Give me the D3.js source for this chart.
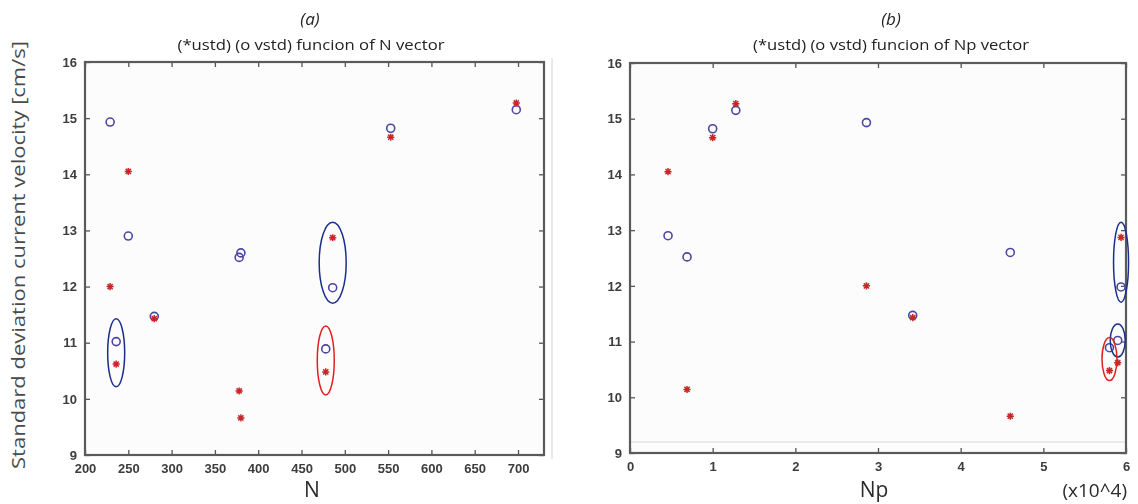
<!DOCTYPE html>
<html>
<head>
<meta charset="utf-8">
<script src="https://cdn.jsdelivr.net/npm/d3@7"></script>
<style>
  html, body { margin: 0; padding: 0; background: #ffffff; }
  svg { display: block; }
</style>
</head>
<body>
<svg id="chart" width="1138" height="504"></svg>
<script>
// Ten runs: grid size N, particle count Np (x10^4), and the standard
// deviations of the u and v current velocity components [cm/s].
const nValues  = [229, 250, 236, 280, 378, 380, 486, 478, 553, 698];
const npValues = [2.86, 0.46, 5.90, 3.42, 0.69, 4.60, 5.94, 5.80, 1.00, 1.28];
const ustd     = [12.00, 14.05, 10.62, 11.43, 10.14, 9.66, 12.87, 10.48, 14.66, 15.27];
const vstd     = [14.93, 12.90, 11.02, 11.47, 12.52, 12.60, 11.98, 10.89, 14.82, 15.15];

const nTicks  = [200, 250, 300, 350, 400, 450, 500, 550, 600, 650, 700];
const npTicks = [0, 1, 2, 3, 4, 5, 6];
const yTicks  = [9, 10, 11, 12, 13, 14, 15, 16];

// Highlighted runs: panel, run index, which series the ring encloses.
const highlights = [
  { panel: 'a', run: 2, series: ['u', 'v'], color: '#1b2e8c', rx: 8.5, ry: 34 },
  { panel: 'a', run: 6, series: ['u', 'v'], color: '#1b2e8c', rx: 13.5, ry: 40.5 },
  { panel: 'a', run: 7, series: ['u', 'v'], color: '#e0201c', rx: 8.5, ry: 34.5 },
  { panel: 'b', run: 6, series: ['u', 'v'], color: '#1b2e8c', rx: 7.5, ry: 40 },
  { panel: 'b', run: 2, series: ['v'],      color: '#1b2e8c', rx: 7.5, ry: 16.5 },
  { panel: 'b', run: 7, series: ['u', 'v'], color: '#e0201c', rx: 7.5, ry: 21.5 }
];

const svg = d3.select('#chart');
const defs = svg.append('defs');
defs.append('filter').attr('id', 'soft').attr('x', '-50%').attr('y', '-50%')
  .attr('width', '200%').attr('height', '200%')
  .append('feGaussianBlur').attr('stdDeviation', 0.7);
defs.append('filter').attr('id', 'softer').attr('x', '-50%').attr('y', '-50%')
  .attr('width', '200%').attr('height', '200%')
  .append('feGaussianBlur').attr('stdDeviation', 0.55);

const panels = [
  {
    key: 'a', letter: '(a)', title: '(*ustd) (o vstd) funcion of N vector',
    xs: nValues, ticks: nTicks,
    x: d3.scaleLinear().domain([200, 730]).range([85, 544]),
    y: d3.scaleLinear().domain([9, 16]).range([455, 62]),
    letterX: 310, titleX: 311, titleW: 267,
    xLabel: 'N', xLabelX: 312
  },
  {
    key: 'b', letter: '(b)', title: '(*ustd) (o vstd) funcion of Np vector',
    xs: npValues, ticks: npTicks,
    x: d3.scaleLinear().domain([0, 6]).range([630, 1126]),
    y: d3.scaleLinear().domain([9, 16]).range([453, 63]),
    letterX: 891, titleX: 891, titleW: 276,
    xLabel: 'Np', xLabelX: 874
  }
];

function starPath(r) {
  const d = r * 0.72;
  return `M${-r},0L${r},0M0,${-r}L0,${r}M${-d},${-d}L${d},${d}M${-d},${d}L${d},${-d}`;
}

panels.forEach(p => {
  const g = svg.append('g');
  const [x0, x1] = p.x.range();
  const [y0, y1] = p.y.range();

  // plot area
  g.append('rect').attr('x', x0).attr('y', y1).attr('width', x1 - x0).attr('height', y0 - y1)
    .attr('fill', '#fcfcfc');

  if (p.key === 'b') {
    g.append('line').attr('x1', x0).attr('x2', x1).attr('y1', y0 - 11).attr('y2', y0 - 11)
      .attr('stroke', '#d8d8d8').attr('stroke-width', 1);
  } else {
    g.append('line').attr('x1', x1 + 8).attr('x2', x1 + 8).attr('y1', y1 - 4).attr('y2', y0 + 4)
      .attr('stroke', '#e2e2e2').attr('stroke-width', 1.5);
  }

  // axes with inward ticks on all four sides
  const axisStyle = sel => {
    sel.select('.domain').remove();
    sel.selectAll('.tick line').attr('stroke', '#555').attr('stroke-width', 1.3);
  };
  const labelStyle = sel => sel.selectAll('text')
    .attr('font-family', 'Liberation Sans, Arial, sans-serif')
    .attr('font-weight', 'bold').attr('font-size', 13).attr('fill', '#3c3c3c')
    .attr('filter', 'url(#softer)');

  const bottom = g.append('g').attr('transform', `translate(0,${y0})`)
    .call(d3.axisBottom(p.x).tickValues(p.ticks).tickSize(-5).tickPadding(9).tickFormat(d3.format('d')));
  axisStyle(bottom); labelStyle(bottom);

  const top = g.append('g').attr('transform', `translate(0,${y1})`)
    .call(d3.axisTop(p.x).tickValues(p.ticks).tickSize(-5).tickFormat(''));
  axisStyle(top);

  const left = g.append('g').attr('transform', `translate(${x0},0)`)
    .call(d3.axisLeft(p.y).tickValues(yTicks).tickSize(-5).tickPadding(8).tickFormat(d3.format('d')));
  axisStyle(left); labelStyle(left);

  const right = g.append('g').attr('transform', `translate(${x1},0)`)
    .call(d3.axisRight(p.y).tickValues(yTicks).tickSize(-5).tickFormat(''));
  axisStyle(right);

  // box
  g.append('rect').attr('x', x0).attr('y', y1).attr('width', x1 - x0).attr('height', y0 - y1)
    .attr('fill', 'none').attr('stroke', '#5a5a5a').attr('stroke-width', 2.2);

  // v std: circles
  g.append('g').attr('filter', 'url(#soft)').selectAll('circle')
    .data(vstd).join('circle')
    .attr('cx', (d, i) => p.x(p.xs[i])).attr('cy', d => p.y(d)).attr('r', 4)
    .attr('fill', 'none').attr('stroke', '#4b47a0').attr('stroke-width', 1.6);

  // u std: stars
  g.append('g').attr('filter', 'url(#soft)').selectAll('path')
    .data(ustd).join('path')
    .attr('transform', (d, i) => `translate(${p.x(p.xs[i])},${p.y(d)})`)
    .attr('d', starPath(3.6))
    .attr('fill', 'none').attr('stroke', '#c8282a').attr('stroke-width', 1.5);

  // highlight rings
  highlights.filter(h => h.panel === p.key).forEach(h => {
    const vals = h.series.map(s => (s === 'u' ? ustd : vstd)[h.run]);
    g.append('ellipse')
      .attr('cx', p.x(p.xs[h.run])).attr('cy', p.y(d3.mean(vals)))
      .attr('rx', h.rx).attr('ry', h.ry)
      .attr('fill', 'none').attr('stroke', h.color).attr('stroke-width', 1.5);
  });

  // titles
  svg.append('text').attr('x', p.letterX).attr('y', 25).attr('text-anchor', 'middle')
    .attr('font-family', 'Open Sans, sans-serif').attr('font-style', 'italic')
    .attr('font-size', 17).attr('fill', '#222').text(p.letter);
  svg.append('text').attr('x', p.titleX).attr('y', 50).attr('text-anchor', 'middle')
    .attr('font-family', 'Open Sans, sans-serif').attr('font-size', 14).attr('fill', '#222')
    .attr('textLength', p.titleW).attr('lengthAdjust', 'spacingAndGlyphs').text(p.title);

  // x axis title
  svg.append('text').attr('x', p.xLabelX).attr('y', 497).attr('text-anchor', 'middle')
    .attr('font-family', 'Open Sans, sans-serif').attr('font-size', 21).attr('fill', '#2a2a2a')
    .text(p.xLabel);
});

svg.append('text').attr('x', 1127).attr('y', 497).attr('text-anchor', 'end')
  .attr('font-family', 'Open Sans, sans-serif').attr('font-size', 19).attr('fill', '#2a2a2a')
  .text('(x10^4)');

svg.append('text')
  .attr('transform', 'translate(25,255) rotate(-90)')
  .attr('text-anchor', 'middle')
  .attr('font-family', 'Open Sans, sans-serif').attr('font-size', 19).attr('fill', '#4a4a4a')
  .attr('textLength', 428).attr('lengthAdjust', 'spacingAndGlyphs')
  .text('Standard  deviation current  velocity [cm/s]');
</script>
</body>
</html>
